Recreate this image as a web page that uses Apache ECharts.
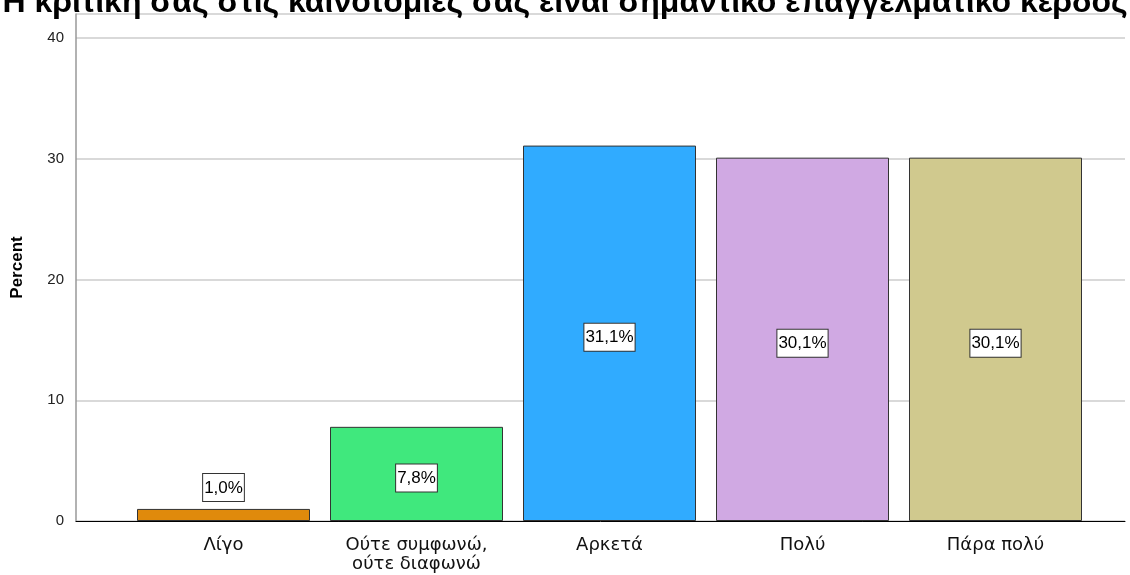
<!DOCTYPE html>
<html>
<head>
<meta charset="utf-8">
<script src="https://cdn.jsdelivr.net/npm/echarts@6/dist/echarts.min.js"></script>
<style>
html,body{margin:0;padding:0;background:#fff;}
#chart{width:1130px;height:575px;}
</style>
</head>
<body>
<div id="chart"></div>
<script>
var titleText = 'Η κριτική σας στις καινοτομίες σας είναι σημαντικό επαγγελματικό κέρδος';
var categories = ['Λίγο', 'Ούτε συμφωνώ,\nούτε διαφωνώ', 'Αρκετά', 'Πολύ', 'Πάρα πολύ'];
var percents = [1.0, 7.8, 31.1, 30.1, 30.1];
var barColors = ['#E08A0C', '#40E87D', '#30ABFF', '#D0A9E3', '#D0C98E'];
var yTicks = [0, 10, 20, 30, 40];

var myChart = echarts.init(document.getElementById('chart'));

var barData = [];
for (var i = 0; i < percents.length; i++) {
    var item = {
        value: percents[i],
        itemStyle: { color: barColors[i] }
    };
    if (percents[i] < 3) {
        item.label = { position: 'top', distance: 8, offset: [0, 0] }; // small bar: label sits above
    }
    barData.push(item);
}

myChart.setOption({
    animation: false,
    title: {
        text: titleText,
        left: 'center',
        top: -18,
        textStyle: {
            fontFamily: 'Liberation Sans',
            fontSize: 32,
            fontWeight: 'bold',
            color: '#000'
        }
    },
    grid: [
        { left: 76, right: 5, top: 14, bottom: 54 },   // axes + gridlines
        { left: 127, right: 38, top: 14, bottom: 54 }  // bars
    ],
    xAxis: [
        {
            gridIndex: 0,
            type: 'value',
            min: 0, max: 1,
            axisLine: { show: true, lineStyle: { color: '#000', width: 1 } },
            axisTick: { show: false },
            axisLabel: { show: false },
            splitLine: { show: false }
        },
        {
            gridIndex: 1,
            type: 'category',
            data: categories,
            axisLine: { show: false },
            axisTick: { show: false },
            axisLabel: {
                margin: 15,
                fontFamily: 'DejaVu Sans',
                fontSize: 18,
                color: '#111',
                lineHeight: 19
            }
        }
    ],
    yAxis: [
        {
            gridIndex: 0,
            type: 'value',
            min: 0, max: 42, interval: 10,
            name: 'Percent',
            nameLocation: 'middle',
            nameGap: 50,
            nameTextStyle: {
                fontFamily: 'Liberation Sans',
                fontSize: 17,
                fontWeight: 'bold',
                color: '#000'
            },
            axisLine: { show: true, lineStyle: { color: '#999', width: 1.5 } },
            axisTick: { show: false },
            axisLabel: {
                margin: 12,
                fontFamily: 'Liberation Sans',
                fontSize: 15,
                color: '#222',
                formatter: function (v) { return yTicks.indexOf(v) >= 0 ? v : ''; }
            },
            splitLine: { show: true, lineStyle: { color: '#ccc', width: 1.5 } }
        },
        {
            gridIndex: 1,
            type: 'value',
            min: 0, max: 42, interval: 10,
            show: false,
            splitLine: { show: false }
        }
    ],
    series: [{
        type: 'bar',
        xAxisIndex: 1,
        yAxisIndex: 1,
        barWidth: 173,
        data: barData,
        itemStyle: { borderColor: '#333', borderWidth: 1 },
        label: {
            show: true,
            position: 'inside',
            offset: [0, 4],
            formatter: function (p) { return p.value.toFixed(1).replace('.', ',') + '%'; },
            fontFamily: 'Liberation Sans',
            fontSize: 17,
            color: '#000',
            backgroundColor: '#fff',
            borderColor: '#333',
            borderWidth: 1,
            padding: [6, 1, 4, 1]
        }
    }]
});
</script>
</body>
</html>
